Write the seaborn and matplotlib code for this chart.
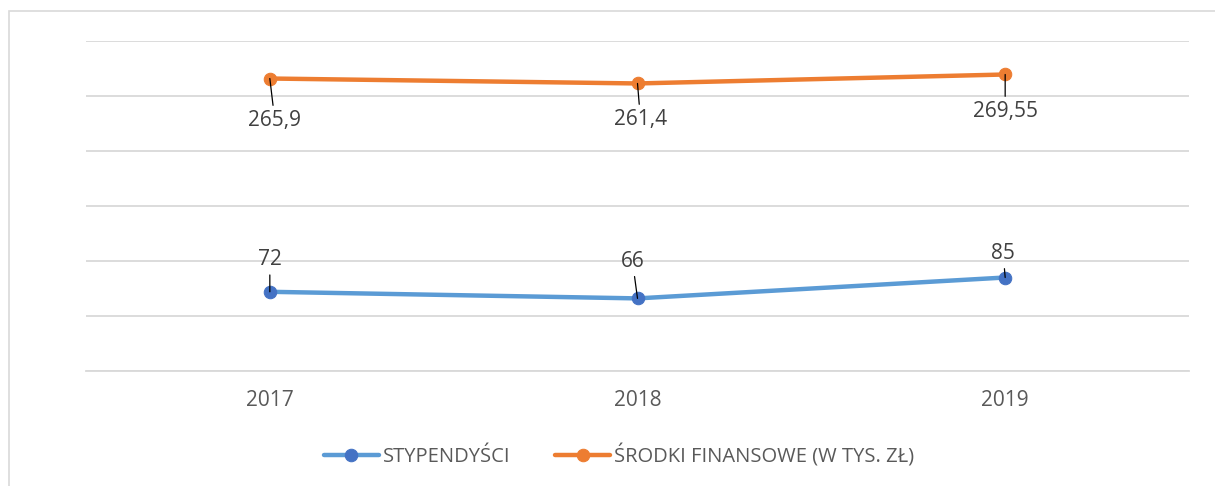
import pandas as pd
import matplotlib.pyplot as plt
import matplotlib.patches as mpatches
import seaborn as sns

# Chart data
years = ["2017", "2018", "2019"]
stypendysci = [72, 66, 85]
srodki = [265.9, 261.4, 269.55]
srodki_labels = ["265,9", "261,4", "269,55"]
stypendysci_labels = ["72", "66", "85"]

sns.set_theme(style="white")
plt.rcParams['font.family'] = ['Open Sans', 'DejaVu Sans']

fig = plt.figure(figsize=(12.15, 4.86), dpi=100)
ax = fig.add_axes([86 / 1215, 1 - 371 / 486, 1103 / 1215, 330 / 486])

# outer chart frame (Excel-like)
fig.patches.append(mpatches.Rectangle((9 / 1215, -0.1), 1.2, 1 - 11 / 486 + 0.1,
                                      transform=fig.transFigure, fill=False,
                                      edgecolor="#D9D9D9", linewidth=1.2))

df = pd.DataFrame({"Rok": years, "Stypendysci": stypendysci, "Srodki": srodki})
xs = list(range(len(years)))

sns.lineplot(x=xs, y=df["Stypendysci"], ax=ax, color="#5B9BD5", linewidth=3.2,
             marker="o", markersize=9, markerfacecolor="#4472C4",
             markeredgecolor="#4472C4", label="STYPENDYŚCI", zorder=2)
sns.lineplot(x=xs, y=df["Srodki"], ax=ax, color="#ED7D31", linewidth=3.2,
             marker="o", markersize=9, markerfacecolor="#ED7D31",
             markeredgecolor="#ED7D31", label="ŚRODKI FINANSOWE (W TYS. ZŁ)", zorder=2)

# data labels with leader lines
orange_offsets = [(5, -42), (3, -36), (0, -37)]
blue_offsets = [(0, 32), (-5, 37), (-2, 24)]
for i in xs:
    ax.annotate(srodki_labels[i], (i, srodki[i]), xytext=orange_offsets[i],
                textcoords="offset pixels", ha="center", va="center",
                fontsize=15, color="#404040", zorder=4,
                arrowprops=dict(arrowstyle="-", color="black", lw=0.9,
                                shrinkA=1, shrinkB=0))
    ax.annotate(stypendysci_labels[i], (i, stypendysci[i]), xytext=blue_offsets[i],
                textcoords="offset pixels", ha="center", va="center",
                fontsize=15, color="#404040", zorder=4,
                arrowprops=dict(arrowstyle="-", color="black", lw=0.9,
                                shrinkA=1, shrinkB=0))

ax.set_xlim(-0.5, 2.5)
ax.set_ylim(0, 300)
ax.set_yticks(range(0, 301, 50))
ax.set_xticks(xs)
ax.set_xticklabels(years)
ax.set_yticklabels([])
ax.grid(axis="y", color="#D9D9D9", linewidth=1.3)
ax.tick_params(axis="x", length=0, pad=14, labelsize=15, labelcolor="#595959")
ax.tick_params(axis="y", length=0)
for side in ["top", "right", "left"]:
    ax.spines[side].set_visible(False)
ax.spines["bottom"].set_color("#D9D9D9")
ax.spines["bottom"].set_linewidth(1.3)
ax.set_xlabel("")
ax.set_ylabel("")

ax.legend(loc="center", bbox_to_anchor=(619 / 1215, 1 - 456 / 486), bbox_transform=fig.transFigure,
          ncol=2, frameon=False, fontsize=14.5, handlelength=2.75, columnspacing=2.2,
          handletextpad=0.2, labelcolor="#595959")

plt.savefig("out.png", dpi=100)
